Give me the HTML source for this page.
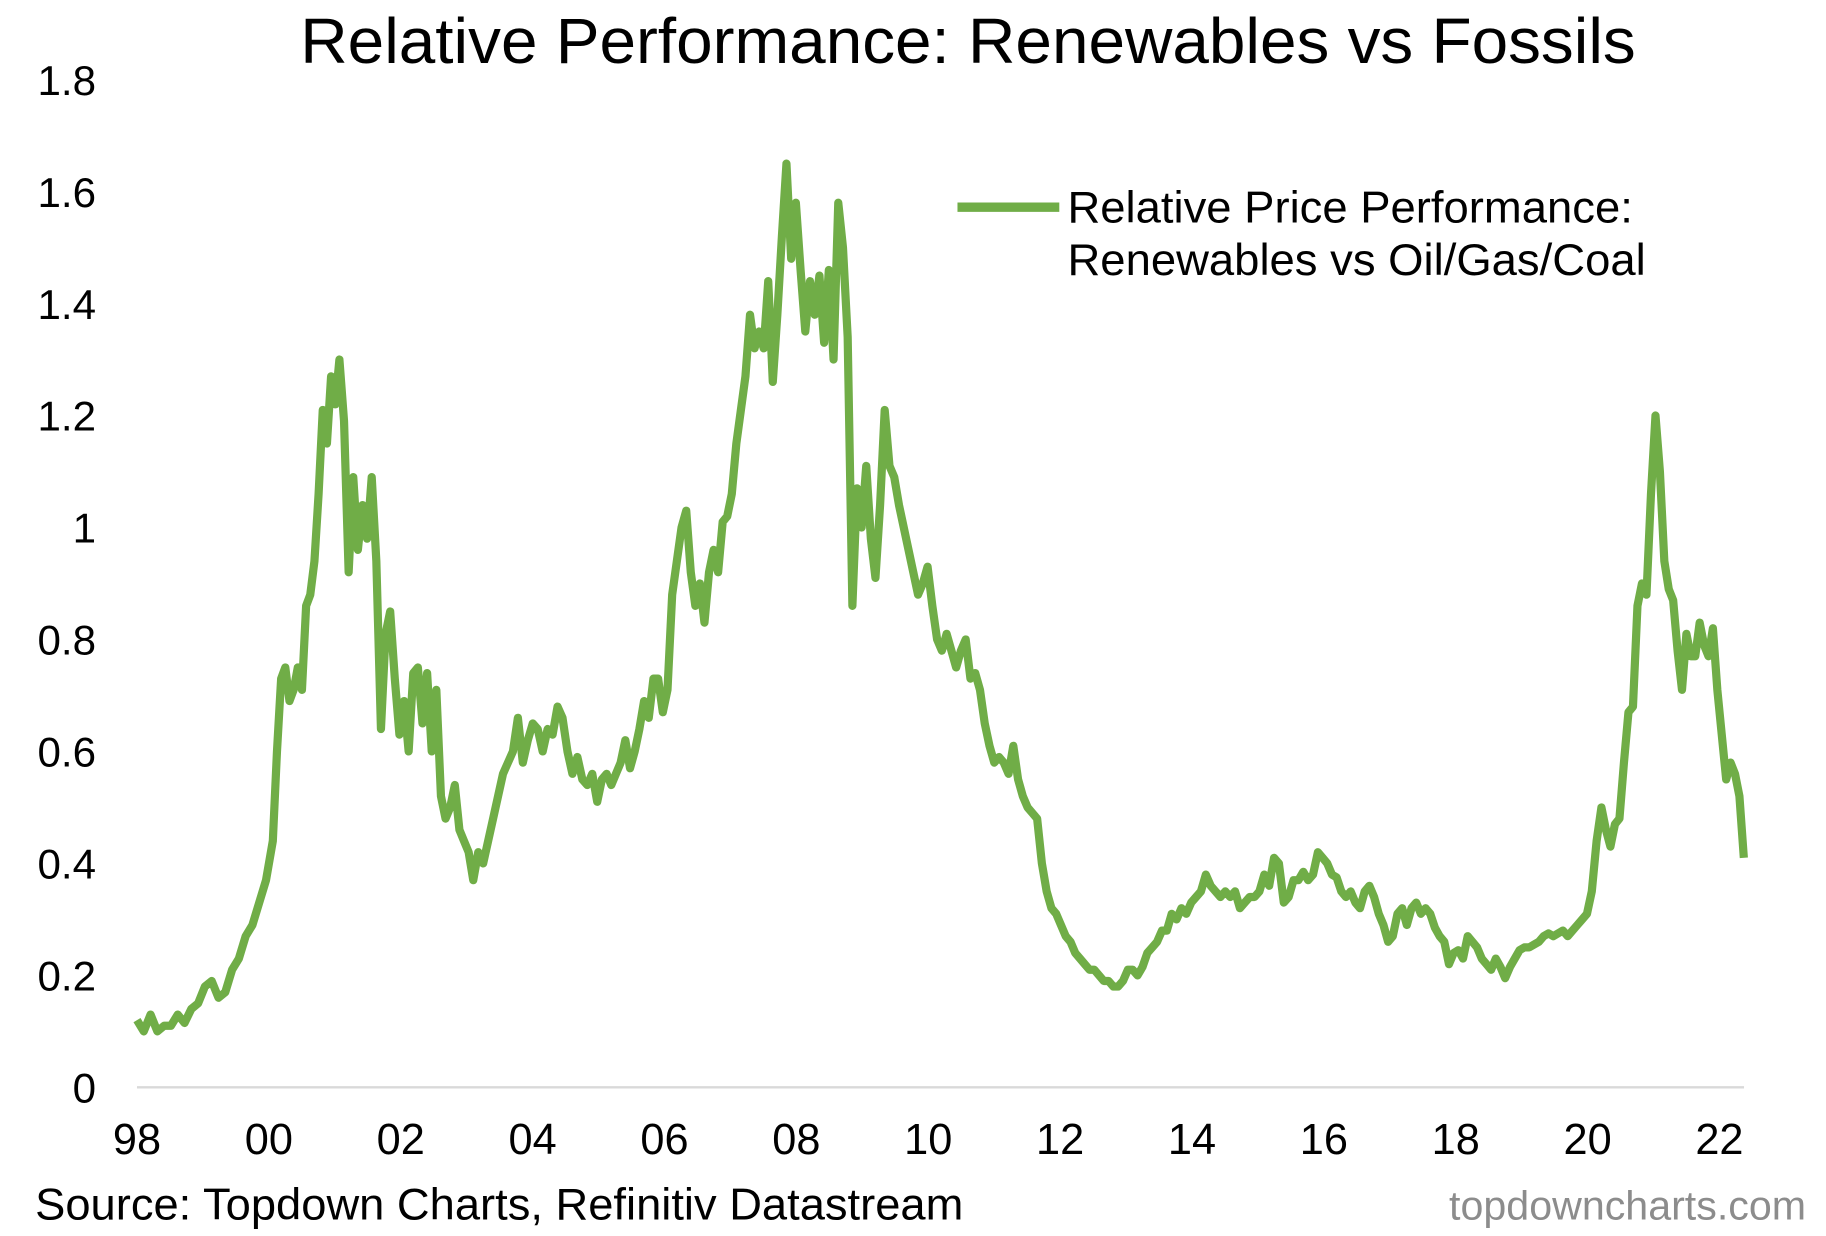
<!DOCTYPE html>
<html><head><meta charset="utf-8"><style>
html,body{margin:0;padding:0;background:#fff;}
svg{display:block;font-family:"Liberation Sans",Arial,sans-serif;}
</style></head><body>
<svg id="chart" width="1826" height="1236" viewBox="0 0 1560 1056" xmlns="http://www.w3.org/2000/svg">
<text x="827" y="54" font-size="55" text-anchor="middle" textLength="1141" lengthAdjust="spacingAndGlyphs" fill="#000">Relative Performance: Renewables vs Fossils</text>
<g id="yaxis"></g>
<g id="xaxis"></g>
<line x1="117" y1="929" x2="1490" y2="929" stroke="#d9d9d9" stroke-width="2"/>
<g id="series"></g>
<g>
<line x1="818" y1="177" x2="905" y2="177" stroke="#70AD47" stroke-width="8"/>
<text x="912" y="190" font-size="38" textLength="483" lengthAdjust="spacingAndGlyphs" fill="#000">Relative Price Performance:</text>
<text x="912" y="235" font-size="38" textLength="494" lengthAdjust="spacingAndGlyphs" fill="#000">Renewables vs Oil/Gas/Coal</text>
</g>
<text x="30" y="1042" font-size="38" textLength="793" lengthAdjust="spacingAndGlyphs" fill="#000">Source: Topdown Charts, Refinitiv Datastream</text>
<text x="1543" y="1042" font-size="35" text-anchor="end" textLength="305" lengthAdjust="spacingAndGlyphs" fill="#8c8c8c">topdowncharts.com</text>
</svg>
<script>
const yTicks=[0,0.2,0.4,0.6,0.8,1,1.2,1.4,1.6,1.8];
const yTickLabels=["0","0.2","0.4","0.6","0.8","1","1.2","1.4","1.6","1.8"];
const xTicks=[1998,2000,2002,2004,2006,2008,2010,2012,2014,2016,2018,2020,2022];
const xTickLabels=["98","00","02","04","06","08","10","12","14","16","18","20","22"];
const anchorIdx=[0,20,36,65,90,109,131,145,152,201,242,282,302,314,334];
const anchorYear=[1998.0,2000.06,2001.07,2003.1,2004.98,2006.33,2007.85,2008.85,2009.34,2012.88,2015.91,2018.75,2020.21,2021.03,2022.37];
const values=[0.12,0.10,0.13,0.10,0.11,0.11,0.13,0.115,0.14,0.15,0.18,0.19,0.16,0.17,0.21,0.23,0.27,0.29,0.33,0.37,0.44,0.60,0.73,0.75,0.69,0.71,0.75,0.71,0.86,0.88,0.94,1.06,1.21,1.15,1.27,1.22,1.30,1.19,0.92,1.09,0.96,1.04,0.98,1.09,0.94,0.64,0.81,0.85,0.73,0.63,0.69,0.60,0.74,0.75,0.65,0.74,0.60,0.71,0.52,0.48,0.50,0.54,0.46,0.44,0.42,0.37,0.42,0.40,0.44,0.48,0.52,0.56,0.58,0.60,0.66,0.58,0.62,0.65,0.64,0.60,0.64,0.63,0.68,0.66,0.60,0.56,0.59,0.55,0.54,0.56,0.51,0.55,0.56,0.54,0.56,0.58,0.62,0.57,0.60,0.64,0.69,0.66,0.73,0.73,0.67,0.71,0.88,0.94,1.00,1.03,0.92,0.86,0.90,0.83,0.92,0.96,0.92,1.01,1.02,1.06,1.15,1.21,1.27,1.38,1.32,1.35,1.32,1.44,1.26,1.38,1.52,1.65,1.48,1.58,1.46,1.35,1.44,1.38,1.45,1.33,1.46,1.30,1.58,1.50,1.34,0.86,1.07,1.00,1.11,0.98,0.91,1.04,1.21,1.11,1.09,1.04,1.00,0.96,0.92,0.88,0.90,0.93,0.86,0.80,0.78,0.81,0.78,0.75,0.78,0.80,0.73,0.74,0.71,0.65,0.61,0.58,0.59,0.58,0.56,0.61,0.55,0.52,0.50,0.49,0.48,0.40,0.35,0.32,0.31,0.29,0.27,0.26,0.24,0.23,0.22,0.21,0.21,0.20,0.19,0.19,0.18,0.18,0.19,0.21,0.21,0.20,0.215,0.24,0.25,0.26,0.28,0.28,0.31,0.30,0.32,0.31,0.33,0.34,0.35,0.38,0.36,0.35,0.34,0.35,0.34,0.35,0.32,0.33,0.34,0.34,0.35,0.38,0.36,0.41,0.40,0.33,0.34,0.37,0.37,0.385,0.37,0.38,0.42,0.41,0.40,0.38,0.375,0.35,0.34,0.35,0.33,0.32,0.35,0.36,0.34,0.31,0.29,0.26,0.27,0.31,0.32,0.29,0.32,0.33,0.31,0.32,0.31,0.285,0.27,0.26,0.22,0.24,0.245,0.23,0.27,0.26,0.25,0.23,0.22,0.21,0.23,0.215,0.195,0.215,0.23,0.245,0.25,0.25,0.255,0.26,0.27,0.275,0.27,0.275,0.28,0.27,0.28,0.29,0.30,0.31,0.35,0.44,0.50,0.46,0.43,0.47,0.48,0.58,0.67,0.68,0.86,0.90,0.88,1.06,1.20,1.10,0.94,0.89,0.87,0.78,0.71,0.81,0.77,0.77,0.83,0.79,0.77,0.82,0.71,0.63,0.55,0.58,0.56,0.52,0.41];

const NS="http://www.w3.org/2000/svg";
function xScale(yr){return 117+(yr-1998)*(1469-117)/24;}
function yScale(v){return 929-v*(929-68)/1.8;}
function yearOf(i){
  const last=values.length-1;
  const idx=anchorIdx.map(a=>Math.min(a,last));
  if(i>=idx[idx.length-1]) return anchorYear[anchorYear.length-1];
  for(let k=0;k<idx.length-1;k++){
    if(i>=idx[k]&&i<=idx[k+1]){
      const f=(idx[k+1]===idx[k])?0:(i-idx[k])/(idx[k+1]-idx[k]);
      return anchorYear[k]+f*(anchorYear[k+1]-anchorYear[k]);
    }
  }
  return anchorYear[0];
}

const yg=document.getElementById('yaxis');
yTicks.forEach((t,i)=>{
  const el=document.createElementNS(NS,'text');
  
  
  el.setAttribute('x',82);el.setAttribute('y',yScale(t)+13);
  el.setAttribute('font-size','36');el.setAttribute('text-anchor','end');
  el.textContent=yTickLabels[i];yg.appendChild(el);
});
const xg=document.getElementById('xaxis');
xTicks.forEach((t,i)=>{
  const el=document.createElementNS(NS,'text');
  
  
  el.setAttribute('x',xScale(t));el.setAttribute('y',986);
  el.setAttribute('font-size','37');el.setAttribute('text-anchor','middle');
  el.textContent=xTickLabels[i];xg.appendChild(el);
});
let d='';
values.forEach((v,i)=>{
  d+=(i?'L':'M')+xScale(yearOf(i)).toFixed(2)+','+yScale(v).toFixed(2);
});
const p=document.createElementNS(NS,'path');


p.setAttribute('d',d);p.setAttribute('fill','none');
p.setAttribute('stroke','#70AD47');p.setAttribute('stroke-width','7');
p.setAttribute('stroke-linejoin','round');
document.getElementById('series').appendChild(p);
</script>
</body></html>
